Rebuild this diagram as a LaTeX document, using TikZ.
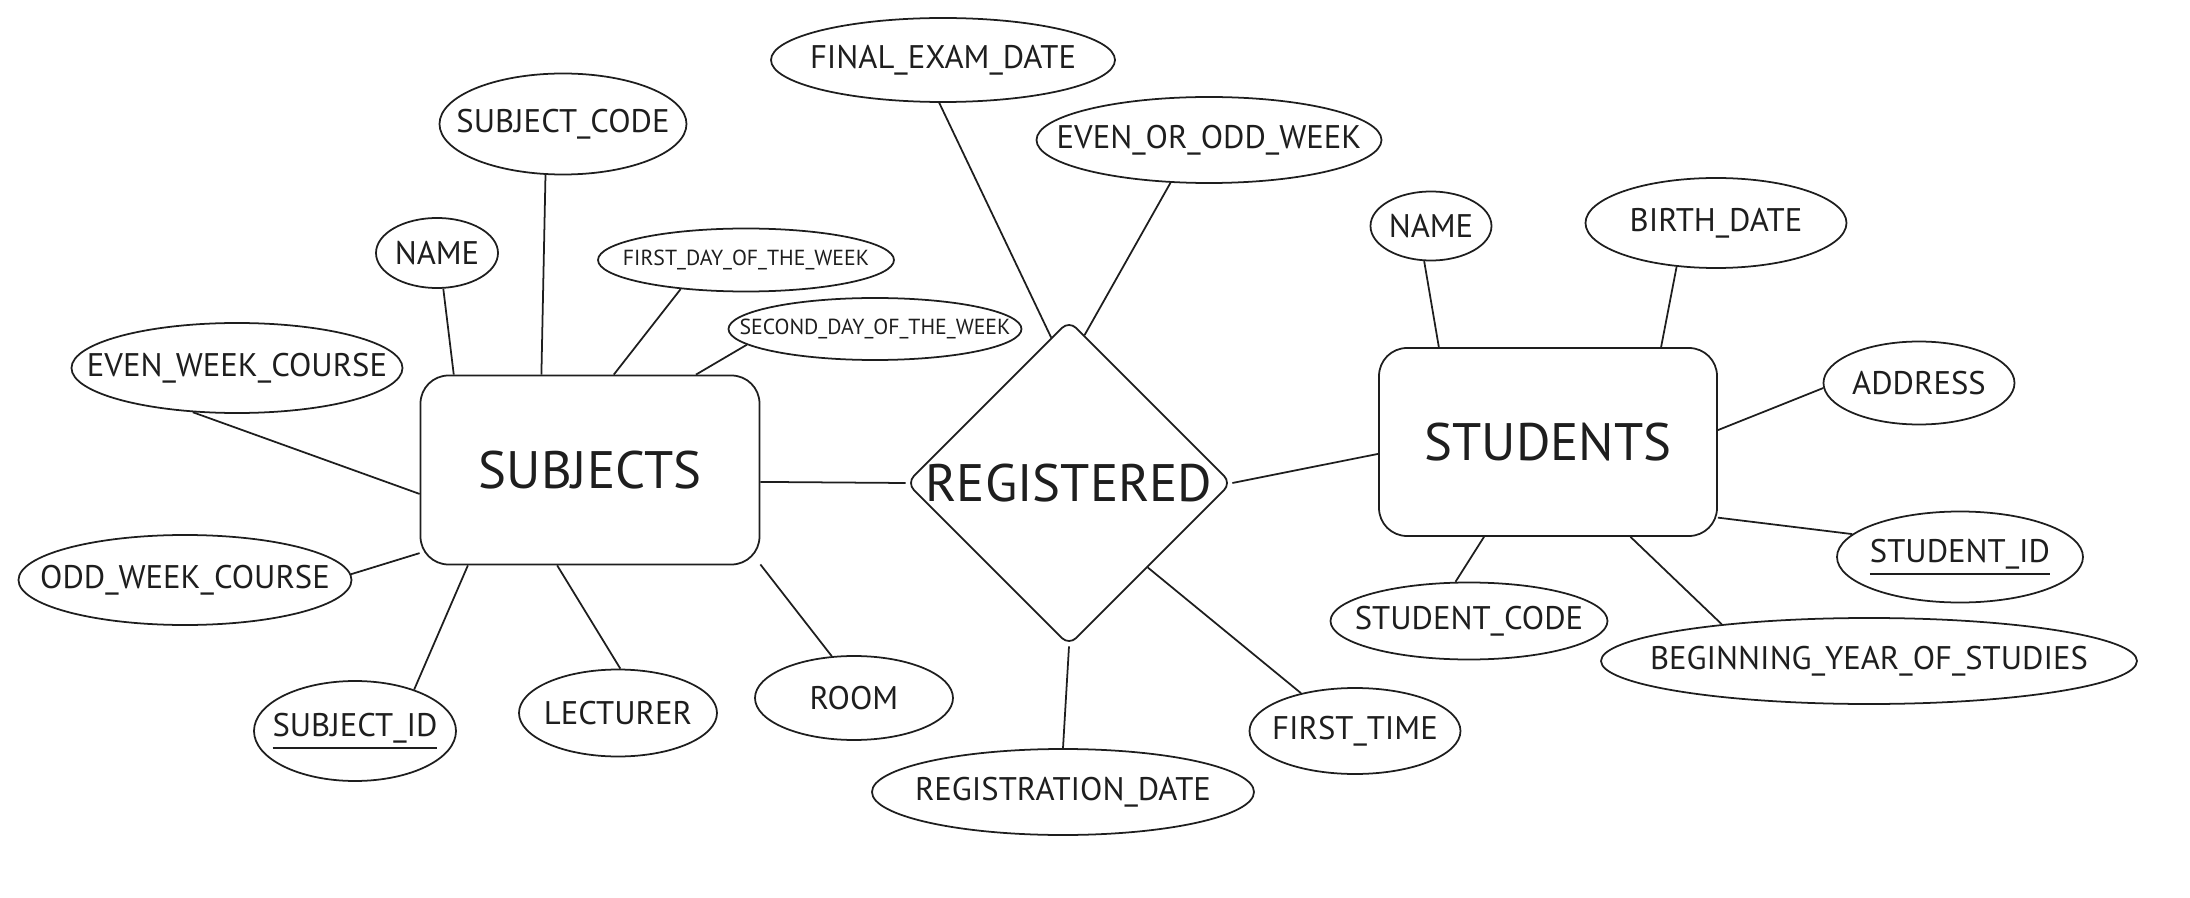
\documentclass[tikz,border=0pt]{standalone}
\usepackage{xcolor}
\usepackage{tikz}
\usepackage{fontspec}
\setmainfont{PT Sans}
\usetikzlibrary{shapes.geometric}
\definecolor{inkgray}{HTML}{1E1E1E}
\newcommand{\keyattr}[1]{\setbox0\hbox{#1}\vtop{\copy0\kern1pt\hrule width\wd0 height0.7pt}}

\begin{document}
\begin{tikzpicture}[every node/.style={draw, inner sep=0pt}, color=inkgray, line width=0.5pt,
    esize/.style 2 args={minimum width=#1cm, minimum height=#2cm},
    % the ellipse keeps the size given to it, the text does not widen it
    fixedtext/.style={execute at begin node={\hbox to 0pt\bgroup\hss}, execute at end node={\hss\egroup}},
    attr/.style={ellipse, fixedtext, font=\fontsize{9.3}{11}\selectfont},
    smallattr/.style={ellipse, fixedtext, font=\fontsize{6.2}{7.5}\selectfont},
    entity/.style={rectangle, rounded corners=0.28cm, font=\fontsize{15}{17}\selectfont},
    relation/.style={diamond, rounded corners=0.1cm, font=\fontsize{15}{17}\selectfont}]
        \useasboundingbox (0,0) rectangle (21.90,-8.98);

        % Entities and the relation between them
        \node[entity, esize={3.39}{1.89}] (subj) at (5.90,-4.70) {SUBJECTS};
        \node[relation, esize={3.19}{3.00}] (reg) at (10.69,-4.83) {REGISTERED};
        \node[entity, esize={3.38}{1.88}] (stud) at (15.48,-4.42) {STUDENTS};

        % Attributes of SUBJECTS
        \node[attr, esize={2.47}{1.01}] (scode) at (5.63,-1.24) {SUBJECT\_CODE};
        \node[attr, esize={1.22}{0.70}] (sname) at (4.37,-2.53) {NAME};
        \node[smallattr, esize={2.96}{0.63}] (fday) at (7.46,-2.60) {FIRST\_DAY\_OF\_THE\_WEEK};
        \node[smallattr, esize={2.93}{0.62}] (sday) at (8.75,-3.29) {SECOND\_DAY\_OF\_THE\_WEEK};
        \node[attr, esize={3.31}{0.90}] (ewcourse) at (2.37,-3.68) {EVEN\_WEEK\_COURSE};
        \node[attr, esize={3.33}{0.90}] (owcourse) at (1.85,-5.80) {ODD\_WEEK\_COURSE};
        \node[attr, esize={2.02}{1.00}] (subid) at (3.55,-7.31) {\keyattr{SUBJECT\_ID}};
        \node[attr, esize={1.98}{0.87}] (lect) at (6.18,-7.13) {LECTURER};
        \node[attr, esize={1.98}{0.84}] (room) at (8.54,-6.98) {ROOM};

        % Attributes of REGISTERED
        \node[attr, esize={3.44}{0.84}] (fexam) at (9.43,-0.60) {FINAL\_EXAM\_DATE};
        \node[attr, esize={3.45}{0.86}] (eoweek) at (12.09,-1.40) {EVEN\_OR\_ODD\_WEEK};
        \node[attr, esize={3.82}{0.86}] (rdate) at (10.63,-7.92) {REGISTRATION\_DATE};
        \node[attr, esize={2.11}{0.86}] (ftime) at (13.55,-7.31) {FIRST\_TIME};

        % Attributes of STUDENTS
        \node[attr, esize={1.21}{0.69}] (stname) at (14.31,-2.26) {NAME};
        \node[attr, esize={2.61}{0.90}] (bdate) at (17.16,-2.23) {BIRTH\_DATE};
        \node[attr, esize={1.91}{0.83}] (addr) at (19.19,-3.83) {ADDRESS};
        \node[attr, esize={2.46}{0.91}] (stid) at (19.60,-5.57) {\keyattr{STUDENT\_ID}};
        \node[attr, esize={2.77}{0.77}] (stcode) at (14.69,-6.21) {STUDENT\_CODE};
        \node[attr, esize={5.36}{0.86}] (byear) at (18.69,-6.61) {BEGINNING\_YEAR\_OF\_STUDIES};

        % Connections of SUBJECTS
        \draw (sname.-80) -- (subj.145);
        \draw (scode.-109) -- (subj.117);
        \draw (fday.-156) -- (subj.76);
        \draw (sday.-173) -- (subj.42);
        \draw (ewcourse.-135) -- (subj.-172);
        \draw (owcourse.2) -- (subj.-154);
        \draw (subid.35) -- (subj.-142);
        \draw (lect.87) -- (subj.-109);
        \draw (room.118) -- (subj.-29);

        % Connections of REGISTERED
        \draw (subj.-4) -- (reg.west);
        \draw (reg.97) -- (fexam.-95);
        \draw (reg.84) -- (eoweek.-132);
        \draw (reg.east) -- (stud.-176);
        \draw (reg.south) -- (rdate.north);
        \draw (reg.-47) -- (ftime.145);

        % Connections of STUDENTS
        \draw (stud.139) -- (stname.-101);
        \draw (stud.40) -- (bdate.-132);
        \draw (stud.4) -- (addr.-177);
        \draw (stud.-24) -- (stid.168);
        \draw (stud.-124) -- (stcode.109);
        \draw (stud.-49) -- (byear.166);

    \end{tikzpicture}
\end{document}
